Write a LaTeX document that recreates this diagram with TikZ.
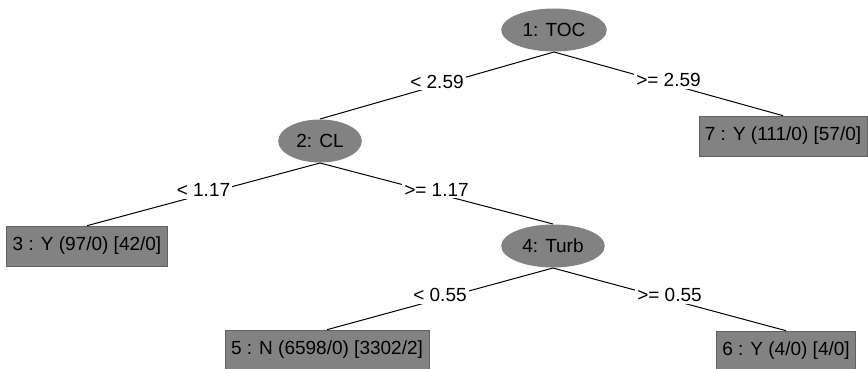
\documentclass[tikz,border=0pt]{standalone}
\usepackage{fontspec}
\setmainfont{Liberation Sans}
\usepackage{tikz}
\usetikzlibrary{shapes.geometric}
\definecolor{treegray}{RGB}{130,130,130}
\tikzset{
    split/.style={ellipse, fill=treegray, inner xsep=6pt, inner ysep=0pt, minimum height=43pt},
    leaf/.style={rectangle, fill=treegray, draw=treegray!75!black, line width=0.6pt,
                 inner xsep=6pt, inner ysep=0pt, minimum height=40pt},
    cut/.style={fill=white, inner sep=2pt, yshift=4pt}
}

\begin{document}
\begin{tikzpicture}[x=1pt, y=-1pt, line width=1pt, font=\fontsize{19}{23}\selectfont]
    \useasboundingbox (0,0) rectangle (868,369);
    \node[split] (toc) at (554,30) {1: TOC};
    \node[split] (cl) at (320,141) {2: CL};
    \node[leaf] (n7) at (783,136) {7 : Y (111/0) [57/0]};
    \node[leaf] (n3) at (87,246) {3 : Y (97/0) [42/0]};
    \node[split] (turb) at (553,246) {4: Turb};
    \node[leaf] (n5) at (327,350) {5 : N (6598/0) [3302/2]};
    \node[leaf] (n6) at (786,351) {6 : Y (4/0) [4/0]};
    % splits, label sits on the middle of each line
    \draw (toc.south) -- node[cut] {< 2.59} (cl.north);
    \draw (toc.south) -- node[cut] {>= 2.59} (n7.north);
    \draw (cl.south) -- node[cut] {< 1.17} (n3.north);
    \draw (cl.south) -- node[cut] {>= 1.17} (turb.north);
    \draw (turb.south) -- node[cut] {< 0.55} (n5.north);
    \draw (turb.south) -- node[cut] {>= 0.55} (n6.north);
\end{tikzpicture}
\end{document}
